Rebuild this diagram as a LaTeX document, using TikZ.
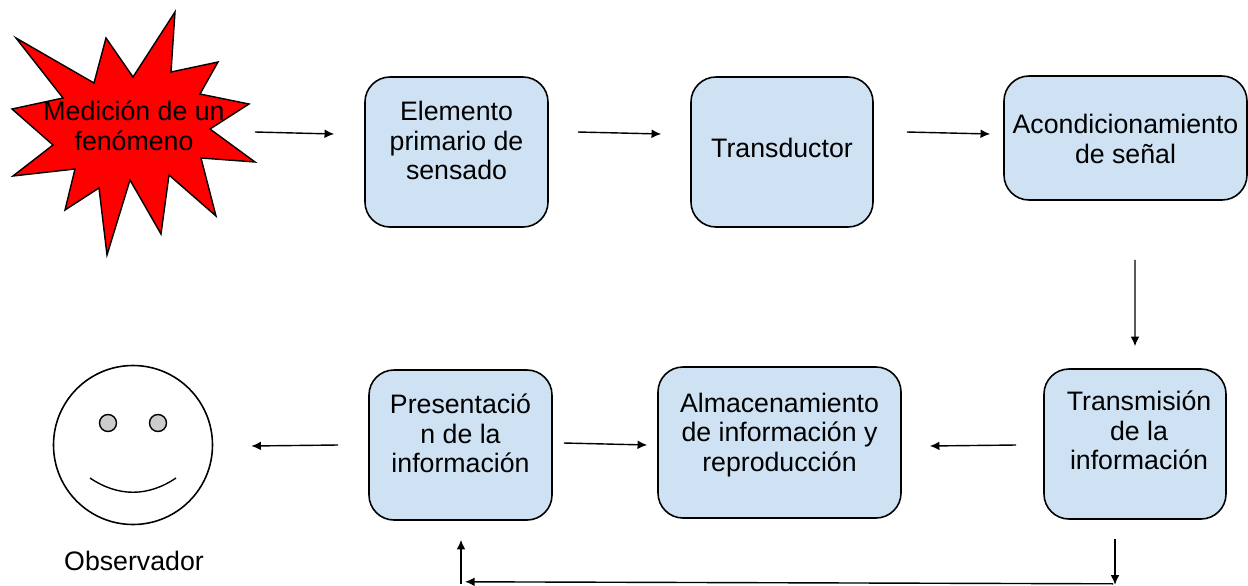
\documentclass[tikz,border=0pt]{standalone}
\usepackage{fontspec}
\setmainfont{Liberation Sans}
\usetikzlibrary{arrows.meta}
\definecolor{azulcaja}{HTML}{CFE2F3}
\newcommand{\subir}[2]{\begin{tabular}{@{}c@{}}#2\\[#1]\end{tabular}}
\tikzset{
	caja/.style={draw, fill=azulcaja, line width=0.9pt, rounded corners=0.5cm, inner sep=0pt},
	flecha/.style={line width=0.8pt, -{Latex[length=5.5pt,width=5pt]}}
}

\begin{document}
\begin{tikzpicture}[x=0.2mm, y=-0.2mm, font=\fontsize{15.2}{16.8}\selectfont]
	\useasboundingbox (0, 0) rectangle (1248, 585);

	%%%%% fila superior %%%%%
	\draw[fill=red, line width=0.8pt] (175, 12) -- (171, 72) -- (218, 62) -- (200, 94) -- (249, 104) -- (210, 129)
		-- (255, 162) -- (201, 158) -- (216, 216) -- (169, 175) -- (161, 234) -- (130, 180) -- (107, 255)
		-- (99, 188) -- (65, 210) -- (75, 169) -- (13, 176) -- (53, 145) -- (12, 109) -- (63, 98)
		-- (16, 38) -- (94, 83) -- (106, 38) -- (133, 77) -- cycle;
	\node[align=center, inner sep=0pt] (medicion) at (134, 126) {Medición de un\\fenómeno};
	\coordinate (salida) at (255, 132);

	\node[caja, minimum width=3.66cm, minimum height=3cm] (primario) at (456.5, 152) {\subir{9pt}{Elemento\\primario de\\sensado}};
	\node[caja, minimum width=3.64cm, minimum height=3cm] (transductor) at (782, 152) {\subir{0pt}{Transductor}};
	\node[caja, minimum width=4.86cm, minimum height=2.48cm] (acond) at (1125.5, 138) {\subir{-5.1pt}{Acondicionamiento\\de señal}};

	%%%%% fila inferior %%%%%
	\node[caja, minimum width=3.64cm, minimum height=3cm] (transmision) at (1135, 444) {\hspace*{4.6pt}\subir{10.8pt}{Transmisión\\de la\\información}};
	\node[caja, minimum width=4.86cm, minimum height=3.02cm] (almacen) at (779.5, 442.5) {\subir{7.6pt}{Almacenamiento\\de información y\\reproducción}};
	\node[caja, minimum width=3.66cm, minimum height=3cm] (presentacion) at (460.5, 445) {\subir{8.8pt}{Presentació\\n de la\\información}};

	\node[draw, circle, line width=0.9pt, minimum size=3.18cm, inner sep=0pt] (cara) at (133, 445) {};
	\draw[fill=black!20, line width=0.8pt] (108, 423) circle (8.5);
	\draw[fill=black!20, line width=0.8pt] (158, 423) circle (8.5);
	\draw[line width=0.8pt] (90, 478) .. controls (118, 497) and (148, 497) .. (176, 478);
	\node (observador) at (134, 561) {Observador};

	%%%%% flechas %%%%%
	\draw[flecha] (salida) -- ([shift={(-30, -18)}]primario.west);
	\draw[flecha] ([shift={(29, -20)}]primario.east) -- ([shift={(-29, -18)}]transductor.west);
	\draw[flecha] ([shift={(33, -20)}]transductor.east) -- ([shift={(-13, -4)}]acond.west);
	\draw[flecha] ([shift={(9.5, 59)}]acond.south) -- ([shift={(0, -22)}]transmision.north);
	\draw[flecha] ([shift={(-27, 1)}]transmision.west) -- ([shift={(28, 3.5)}]almacen.east);
	\draw[flecha] ([shift={(11, -2)}]presentacion.east) -- ([shift={(-10, 2.5)}]almacen.west);
	\draw[flecha] ([shift={(-30, 0)}]presentacion.west) -- ([shift={(38, 1)}]cara.east);

	\draw[flecha] ([shift={(-20, 19)}]transmision.south) -- ([shift={(-20, 65)}]transmision.south);
	\draw[flecha] ([shift={(-22, 64)}]transmision.south) -- ([shift={(4.5, 61)}]presentacion.south);
	\draw[flecha] ([shift={(0.5, 63)}]presentacion.south) -- ([shift={(0.5, 19)}]presentacion.south);
\end{tikzpicture}
\end{document}
